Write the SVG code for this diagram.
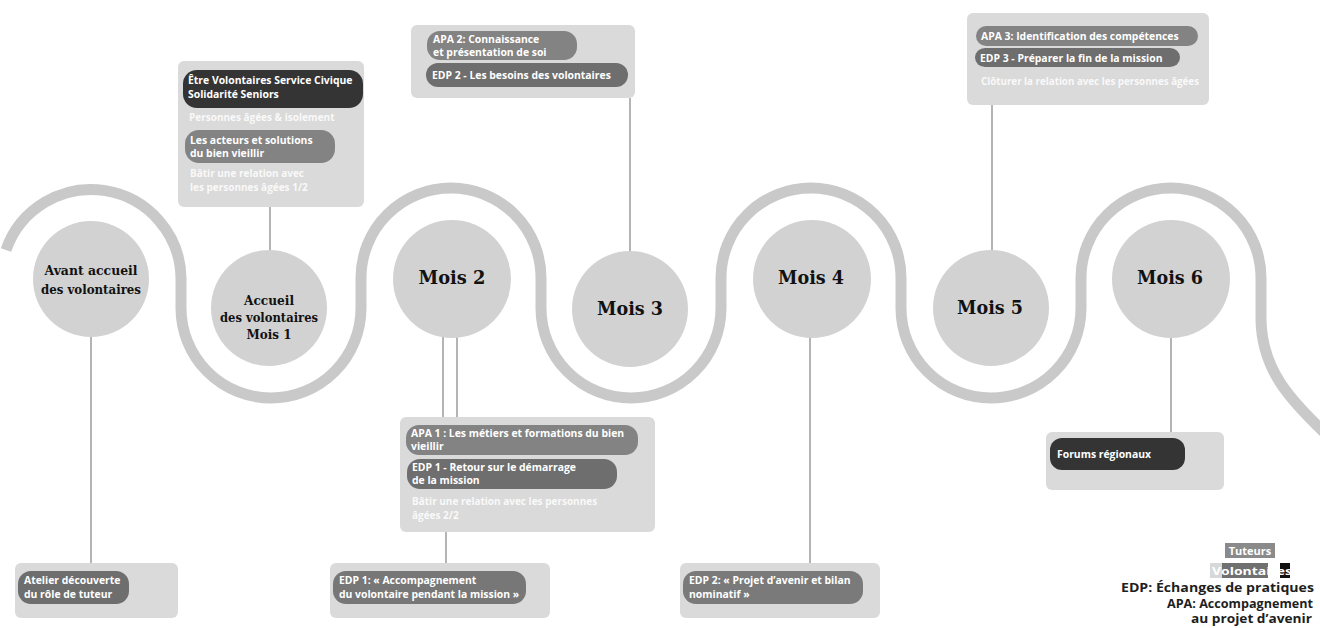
<svg xmlns="http://www.w3.org/2000/svg" width="1320" height="628" viewBox="0 0 1320 628">
<style>
.bg{fill:#dadada}
.dark{fill:#343434}
.mid{fill:#6e6e6e}
.lite{fill:#838383}
.pt{font-family:"Open Sans","Liberation Sans",sans-serif;font-weight:bold;font-size:10.4px;fill:#ffffff}
.wt{font-family:"Open Sans","Liberation Sans",sans-serif;font-weight:bold;font-size:10px;fill:#ffffff;opacity:0.85}
.circ{fill:#d2d2d2}
.lbl{font-family:"DejaVu Serif","Liberation Serif",serif;font-weight:bold;fill:#111111;text-anchor:middle}
.conn{stroke:#b4b4b4;stroke-width:2;fill:none}
.lg{font-family:"Open Sans","Liberation Sans",sans-serif;font-weight:bold;font-size:11.5px;fill:#1e1e1e;text-anchor:end}
</style>
<rect width="1320" height="628" fill="#ffffff"/>

<g id="band">
<path d="M 6 250 A 90 90 0 0 1 181 278 L 181 308 A 90 90 0 0 0 361 308 L 361 278 A 90 90 0 0 1 541 278 L 541 308 A 90 90 0 0 0 721 308 L 721 278 A 90 90 0 0 1 901 278 L 901 308 A 90 90 0 0 0 1081 308 L 1081 278 A 90 90 0 0 1 1261 278 L 1261 320 C 1262 370 1290 400 1328 436" fill="none" stroke="#c9c9c9" stroke-width="11"/>
</g>

<g id="connectors">
<line class="conn" x1="270" y1="206" x2="270" y2="252"/>
<line class="conn" x1="630" y1="98" x2="630" y2="252"/>
<line class="conn" x1="992" y1="105" x2="992" y2="252"/>
<line class="conn" x1="91" y1="336" x2="91" y2="564"/>
<line class="conn" x1="443" y1="336" x2="443" y2="418"/>
<line class="conn" x1="457" y1="336" x2="457" y2="418"/>
<line class="conn" x1="446" y1="532" x2="446" y2="564"/>
<line class="conn" x1="810" y1="336" x2="810" y2="564"/>
<line class="conn" x1="1171" y1="336" x2="1171" y2="433"/>
</g>

<g id="avant-accueil">
<circle class="circ" cx="91" cy="279" r="58"/>
<text class="lbl" x="91" y="275" font-size="12.5" textLength="93" lengthAdjust="spacingAndGlyphs">Avant accueil</text>
<text class="lbl" x="91" y="294" font-size="12.5" textLength="100" lengthAdjust="spacingAndGlyphs">des volontaires</text>
</g>

<g id="mois-1">
<circle class="circ" cx="269" cy="308" r="58"/>
<text class="lbl" x="269" y="305" font-size="12" textLength="50" lengthAdjust="spacingAndGlyphs">Accueil</text>
<text class="lbl" x="269" y="322" font-size="12" textLength="98" lengthAdjust="spacingAndGlyphs">des volontaires</text>
<text class="lbl" x="269" y="339" font-size="12" textLength="45" lengthAdjust="spacingAndGlyphs">Mois 1</text>
</g>

<g id="mois-2">
<circle class="circ" cx="452" cy="279" r="59"/>
<text class="lbl" x="452" y="284" font-size="18" textLength="67" lengthAdjust="spacingAndGlyphs">Mois 2</text>
</g>

<g id="mois-3">
<circle class="circ" cx="630" cy="309" r="58"/>
<text class="lbl" x="630" y="315" font-size="18" textLength="66" lengthAdjust="spacingAndGlyphs">Mois 3</text>
</g>

<g id="mois-4">
<circle class="circ" cx="812" cy="279" r="59"/>
<text class="lbl" x="811" y="284" font-size="18" textLength="66" lengthAdjust="spacingAndGlyphs">Mois 4</text>
</g>

<g id="mois-5">
<circle class="circ" cx="991" cy="308" r="58"/>
<text class="lbl" x="990" y="314" font-size="18" textLength="66" lengthAdjust="spacingAndGlyphs">Mois 5</text>
</g>

<g id="mois-6">
<circle class="circ" cx="1171" cy="279" r="59"/>
<text class="lbl" x="1170" y="284" font-size="18" textLength="66" lengthAdjust="spacingAndGlyphs">Mois 6</text>
</g>

<g id="box-mois1">
<rect class="bg" x="178" y="61" width="186" height="146" rx="6"/>
<rect class="dark" x="183" y="70" width="180" height="38" rx="14"/>
<text class="pt" x="188" y="84">Être Volontaires Service Civique</text>
<text class="pt" x="188" y="97.5">Solidarité Seniors</text>
<text class="wt" x="189" y="121">Personnes âgées &amp; isolement</text>
<rect class="lite" x="185" y="130" width="150" height="33" rx="14"/>
<text class="pt" x="190" y="143.5">Les acteurs et solutions</text>
<text class="pt" x="190" y="157">du bien vieillir</text>
<text class="wt" x="190" y="177">Bâtir une relation avec</text>
<text class="wt" x="190" y="190.5">les personnes âgées 1/2</text>
</g>

<g id="box-mois3">
<rect class="bg" x="411" y="25" width="224" height="73" rx="6"/>
<rect class="lite" x="427" y="31" width="150" height="29" rx="13"/>
<text class="pt" x="433" y="43">APA 2: Connaissance</text>
<text class="pt" x="433" y="56">et présentation de soi</text>
<rect class="mid" x="426" y="63" width="202" height="24" rx="12"/>
<text class="pt" x="432" y="79">EDP 2 - Les besoins des volontaires</text>
</g>

<g id="box-mois5">
<rect class="bg" x="967" y="13" width="242" height="92" rx="6"/>
<rect class="lite" x="976" y="26" width="222" height="20" rx="10"/>
<text class="pt" x="981" y="40">APA 3: Identification des compétences</text>
<rect class="mid" x="975" y="48" width="205" height="19" rx="10"/>
<text class="pt" x="980" y="61.5">EDP 3 - Préparer la fin de la mission</text>
<text class="wt" x="981" y="85" textLength="218" lengthAdjust="spacingAndGlyphs">Clôturer la relation avec les personnes âgées</text>
</g>

<g id="box-avant">
<rect class="bg" x="15" y="563" width="163" height="55" rx="6"/>
<rect class="mid" x="18" y="571" width="111" height="33" rx="13"/>
<text class="pt" x="24" y="584">Atelier découverte</text>
<text class="pt" x="24" y="597.5">du rôle de tuteur</text>
</g>

<g id="box-mois2">
<rect class="bg" x="400" y="417" width="255" height="115" rx="6"/>
<rect class="lite" x="406" y="425" width="232" height="30" rx="13"/>
<text class="pt" x="411" y="437">APA 1 : Les métiers et formations du bien</text>
<text class="pt" x="411" y="450">vieillir</text>
<rect class="mid" x="407" y="459" width="210" height="30" rx="13"/>
<text class="pt" x="412" y="471">EDP 1 - Retour sur le démarrage</text>
<text class="pt" x="412" y="484">de la mission</text>
<text class="wt" x="412" y="505">Bâtir une relation avec les personnes</text>
<text class="wt" x="412" y="518.5">âgées 2/2</text>
</g>

<g id="box-mois2-edp">
<rect class="bg" x="330" y="563" width="220" height="55" rx="6"/>
<rect fill="#777777" x="333" y="571" width="193" height="33" rx="13"/>
<text class="pt" x="339" y="584">EDP 1: « Accompagnement</text>
<text class="pt" x="339" y="597.5">du volontaire pendant la mission »</text>
</g>

<g id="box-mois4">
<rect class="bg" x="680" y="563" width="200" height="55" rx="6"/>
<rect fill="#7a7a7a" x="683" y="571" width="180" height="33" rx="13"/>
<text class="pt" x="689" y="584">EDP 2: « Projet d’avenir et bilan</text>
<text class="pt" x="689" y="597.5">nominatif »</text>
</g>

<g id="box-mois6">
<rect class="bg" x="1046" y="432" width="178" height="58" rx="6"/>
<rect class="dark" x="1050" y="438" width="135" height="32" rx="12"/>
<text class="pt" x="1057" y="458">Forums régionaux</text>
</g>

<g id="legend">
<rect x="1225" y="543" width="50" height="15" fill="#8a8a8a"/>
<text x="1250" y="554.5" font-family="Open Sans, Liberation Sans, sans-serif" font-weight="bold" font-size="11" fill="#ffffff" text-anchor="middle">Tuteurs</text>
<rect x="1210" y="563" width="12" height="15" fill="#d8d8d8"/>
<rect x="1222" y="563" width="46" height="15" fill="#707070"/>
<rect x="1280" y="563" width="10" height="15" fill="#111111"/>
<text x="1212" y="574.5" font-family="Open Sans, Liberation Sans, sans-serif" font-weight="bold" font-size="11" fill="#ffffff" textLength="80" lengthAdjust="spacingAndGlyphs">Volontaires</text>
<text class="lg" x="1314" y="592" textLength="193" lengthAdjust="spacingAndGlyphs">EDP: Échanges de pratiques</text>
<text class="lg" x="1313" y="607.5" textLength="146" lengthAdjust="spacingAndGlyphs">APA: Accompagnement</text>
<text class="lg" x="1312" y="622.5" textLength="121" lengthAdjust="spacingAndGlyphs">au projet d’avenir</text>
</g>
</svg>
